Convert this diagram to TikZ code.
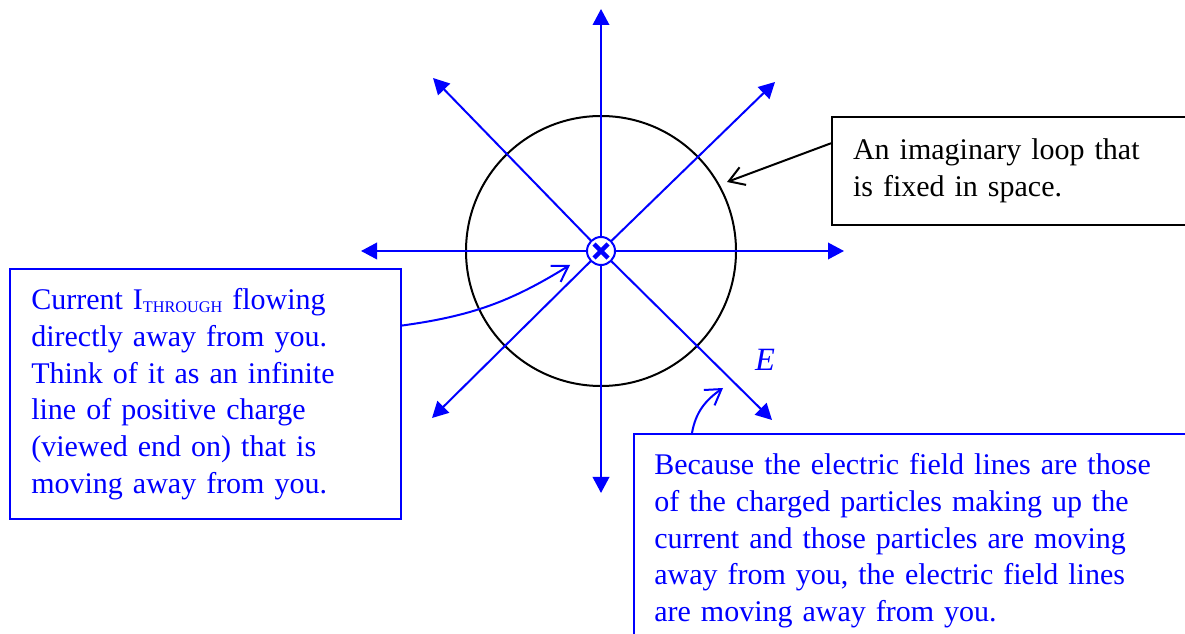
\documentclass[tikz,border=0pt]{standalone}
\usepackage{fontspec}
\setmainfont{Liberation Serif}
\usetikzlibrary{arrows.meta,calc,positioning}
\tikzset{
  field line/.style={blue,line width=.8pt,-{Triangle[length=6.4pt,width=6.6pt]}},
  pointer/.style={line width=.8pt,-{Straight Barb[length=6pt,width=7.5pt]}},
  note box/.style={draw,line width=.8pt,anchor=north west,align=left,
    inner xsep=8.4pt,inner ysep=7.8pt,font=\fontsize{12}{14.7}\selectfont}
}
\newcommand{\SubCaps}[1]{\raisebox{-1.3pt}{\fontsize{6.5}{7}\selectfont #1}}

\begin{document}
\begin{tikzpicture}[x=.4pt,y=.4pt,line join=miter]
  \useasboundingbox (0,0) rectangle (1185,633);
  \clip (0,0) rectangle (1185,633);

  \coordinate (c)  at (601,382);
  \coordinate (f1) at (601,624);
  \coordinate (f2) at (775,551);
  \coordinate (f3) at (844,382);
  \coordinate (f4) at (772,213);
  \coordinate (f5) at (601,140);
  \coordinate (f6) at (432,215);
  \coordinate (f7) at (361,382);
  \coordinate (f8) at (433,555);

  \node[draw,circle,line width=.8pt,minimum size=108pt,inner sep=0pt] (loop) at (c) {};
  \foreach \p in {f1,f2,f3,f4,f5,f6,f7,f8} {\draw[field line] (c) -- (\p);}
  \node[circle,draw=blue,fill=white,line width=.8pt,minimum size=11.2pt,inner sep=0pt] (wire) at (c) {};
  \draw[blue,line width=1.8pt] ([shift={(-7,-7)}]wire.center) -- ([shift={(7,7)}]wire.center)
        ([shift={(-7,7)}]wire.center) -- ([shift={(7,-7)}]wire.center);

  \node[note box,blue,text width=139.5pt] (current) at (9.3,365)
    {Current I\SubCaps{THROUGH} flowing\\directly away from you.\\Think of it as an infinite\\line of positive charge\\(viewed end on) that is\\moving away from you.};
  \node[note box,text width=130.8pt,minimum height=43.3pt] (loopnote) at (831,517.3)
    {An imaginary loop that\\is fixed in space.};
  \node[note box,blue,text width=230pt,inner xsep=8pt] (fieldnote) at (633.3,200)
    {Because the electric field lines are those\\of the charged particles making up the\\current and those particles are moving\\away from you, the electric field lines\\are moving away from you.};
  \node[blue,font=\fontsize{13}{15}\selectfont\itshape] (elabel) at (765,273) {E};

  \coordinate (loop tip)  at (727,451);
  \coordinate (wire tip)  at (570,368);
  \coordinate (field tip) at (723,245);
  \draw[pointer] ($(loopnote.north west)!0.25!(loopnote.south west)$) -- (loop tip);
  \draw[pointer,blue] ($(current.north east)!0.228!(current.south east)$) to[bend right=12] (wire tip);
  \draw[pointer,blue] ($(fieldnote.north west)+(58.7,0)$) to[out=80,in=215] (field tip);
\end{tikzpicture}
\end{document}
